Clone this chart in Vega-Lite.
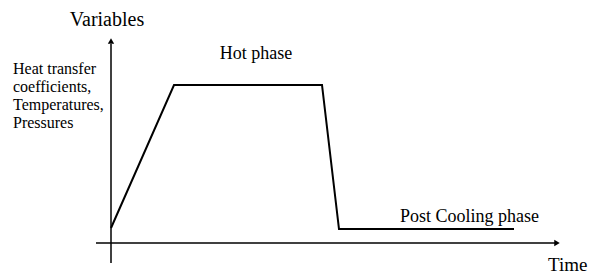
{
  "$schema": "https://vega.github.io/schema/vega-lite/v6.json",
  "width": 590,
  "height": 274,
  "autosize": {"type": "none"},
  "padding": 0,
  "background": "white",
  "config": {"view": {"stroke": null}},
  "datasets": {
    "curve": [
      {"t": 0, "v": 15},
      {"t": 63, "v": 158},
      {"t": 211, "v": 158},
      {"t": 228, "v": 14},
      {"t": 403, "v": 14}
    ],
    "xaxis": [{"t": -15, "t2": 444, "v": 0}],
    "yaxis": [{"t": 0, "v": -20, "v2": 199}],
    "xarrow": [{"t": 446, "v": 0}],
    "yarrow": [{"t": 0, "v": 202}],
    "centerLabels": [
      {"t": -4, "v": 217, "text": "Variables", "size": 20},
      {"t": 145, "v": 184, "text": "Hot phase", "size": 18}
    ],
    "leftLabels": [
      {"t": 289, "v": 21, "text": "Post Cooling phase", "size": 18},
      {"t": 437, "v": -28, "text": "Time", "size": 19}
    ],
    "multi": [
      {"t": -98, "v": 169, "text": ["Heat transfer", "coefficients,", "Temperatures,", "Pressures"]}
    ]
  },
  "layer": [
    {
      "data": {"name": "xaxis"},
      "mark": {"type": "rule", "color": "black", "strokeWidth": 1.5},
      "encoding": {
        "x": {"field": "t", "type": "quantitative", "scale": {"domain": [-111, 479], "nice": false, "zero": false}, "axis": null},
        "x2": {"field": "t2"},
        "y": {"field": "v", "type": "quantitative", "scale": {"domain": [-31, 243], "nice": false, "zero": false}, "axis": null}
      }
    },
    {
      "data": {"name": "yaxis"},
      "mark": {"type": "rule", "color": "black", "strokeWidth": 1.5},
      "encoding": {
        "x": {"field": "t", "type": "quantitative"},
        "y": {"field": "v", "type": "quantitative"},
        "y2": {"field": "v2"}
      }
    },
    {
      "data": {"name": "xarrow"},
      "mark": {"type": "point", "shape": "triangle-right", "filled": true, "color": "black", "size": 40, "opacity": 1},
      "encoding": {
        "x": {"field": "t", "type": "quantitative"},
        "y": {"field": "v", "type": "quantitative"}
      }
    },
    {
      "data": {"name": "yarrow"},
      "mark": {"type": "point", "shape": "triangle-up", "filled": true, "color": "black", "size": 40, "opacity": 1},
      "encoding": {
        "x": {"field": "t", "type": "quantitative"},
        "y": {"field": "v", "type": "quantitative"}
      }
    },
    {
      "data": {"name": "curve"},
      "mark": {"type": "line", "color": "black", "strokeWidth": 2},
      "encoding": {
        "x": {"field": "t", "type": "quantitative"},
        "y": {"field": "v", "type": "quantitative"}
      }
    },
    {
      "data": {"name": "centerLabels"},
      "mark": {"type": "text", "font": "Liberation Serif", "align": "center", "baseline": "alphabetic", "color": "black"},
      "encoding": {
        "x": {"field": "t", "type": "quantitative"},
        "y": {"field": "v", "type": "quantitative"},
        "text": {"field": "text"},
        "size": {"field": "size", "type": "quantitative", "scale": null}
      }
    },
    {
      "data": {"name": "leftLabels"},
      "mark": {"type": "text", "font": "Liberation Serif", "align": "left", "baseline": "alphabetic", "color": "black"},
      "encoding": {
        "x": {"field": "t", "type": "quantitative"},
        "y": {"field": "v", "type": "quantitative"},
        "text": {"field": "text"},
        "size": {"field": "size", "type": "quantitative", "scale": null}
      }
    },
    {
      "data": {"name": "multi"},
      "mark": {"type": "text", "font": "Liberation Serif", "fontSize": 16, "align": "left", "baseline": "alphabetic", "lineHeight": 18, "color": "black"},
      "encoding": {
        "x": {"field": "t", "type": "quantitative"},
        "y": {"field": "v", "type": "quantitative"},
        "text": {"field": "text"}
      }
    }
  ]
}
